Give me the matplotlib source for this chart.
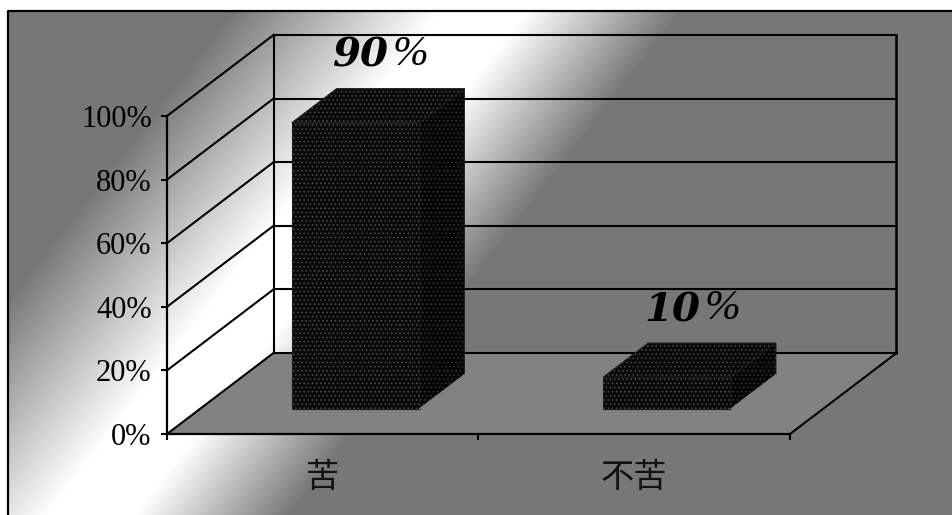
import numpy as np
import matplotlib.pyplot as plt
from matplotlib.patches import Polygon

plt.rcParams['font.family'] = ['Liberation Serif', 'Noto Sans CJK SC']
plt.rcParams['hatch.linewidth'] = 0.6

categories = ['苦', '不苦']
values = [0.90, 0.10]
value_labels = ['90', '10']
yticks = [0, 0.2, 0.4, 0.6, 0.8, 1.0]
ytick_labels = ['0%', '20%', '40%', '60%', '80%', '100%']

W, H = 952, 515
fig = plt.figure(figsize=(W / 100, H / 100), dpi=100)

# diagonal gray-white-gray background (pixel coords)
bg = fig.add_axes([0, 0, 1, 1], zorder=-1)
bg.set_xlim(0, W)
bg.set_ylim(H, 0)
bg.axis('off')
xx, yy = np.meshgrid(np.arange(W) + 0.5, np.arange(H) + 0.5)
u = 0.789 * xx + 0.615 * yy
g = np.full(u.shape, 119.0)
m = (u > 190) & (u < 354)
g[m] = 119 + 136 * (u[m] - 190) / 164
g[(u >= 354) & (u <= 423)] = 255
m = (u > 423) & (u < 545)
g[m] = 255 - 136 * (u[m] - 423) / 122
g[(yy < 11) | (xx < 8)] = 255
bg.imshow(np.dstack([g, g, g]) / 255, extent=(0, W, H, 0), aspect='auto')
bg.plot([8, 8, W], [H, 11, 11], color='black', lw=1.6)

# front frame of the plot
ax = fig.add_axes([167 / W, 1 - 434 / H, 623 / W, 318 / H])
ax.set_facecolor('none')
ax.set_xlim(0, 2)
ax.set_ylim(0, 1)

DX, DY = 106.5 / 311.5, 81 / 318   # depth offset in data units


def P(x, y, d):
    return (x + d * DX, y + d * DY)


# floor
ax.add_patch(Polygon([P(0, 0, 0), P(2, 0, 0), P(2, 0, 1), P(0, 0, 1)],
                     closed=True, facecolor='#828282', edgecolor='none',
                     zorder=0.5, clip_on=False))
ax.plot([2, 2 + DX], [0, DY], color='black', lw=1.5, clip_on=False, zorder=1)

# walls and gridlines
for v in yticks:
    ax.plot([0, DX], [v, v + DY], color='black', lw=1.5, clip_on=False, zorder=1)
    ax.plot([DX, 2 + DX], [v + DY, v + DY], color='black', lw=1.5, clip_on=False, zorder=1)
ax.plot([DX, DX], [DY, 1 + DY], color='black', lw=1.5, clip_on=False, zorder=1)
ax.plot([2 + DX, 2 + DX], [DY, 1 + DY], color='black', lw=1.8, clip_on=False, zorder=1)

# bars
hw, d0, d1 = 0.205, 0.31, 0.73
for i, (v, lab) in enumerate(zip(values, value_labels)):
    cx = i + 0.5
    x0, x1 = cx - hw, cx + hw
    front = [P(x0, 0, d0), P(x1, 0, d0), P(x1, v, d0), P(x0, v, d0)]
    top = [P(x0, v, d0), P(x1, v, d0), P(x1, v, d1), P(x0, v, d1)]
    side = [P(x1, 0, d0), P(x1, 0, d1), P(x1, v, d1), P(x1, v, d0)]
    for face, fc, hc in [(front, '#0a0a0a', '#4e4e4e'),
                         (top, '#0a0a0a', '#4a4a4a'),
                         (side, '#050505', '#363636')]:
        ax.add_patch(Polygon(face, closed=True, facecolor=fc, edgecolor='#1a1a1a',
                             lw=0.8, zorder=3, clip_on=False))
        ax.add_patch(Polygon(face, closed=True, facecolor='none', edgecolor=hc,
                             hatch='....', lw=0, zorder=3.1, clip_on=False))
    ax.plot(*zip(P(x1, 0, d0), P(x1, 0, d1)), color='#9a9a9a', lw=0.8,
            zorder=3.2, clip_on=False)

    ax.annotate(lab, xy=P(cx, v, 0.5), xytext=(9, 37), textcoords='offset points',
                ha='right', va='center', fontfamily='DejaVu Serif',
                fontweight='heavy', fontstyle='italic', fontsize=29, zorder=4,
                annotation_clip=False)
    ax.annotate('%', xy=P(cx, v, 0.5), xytext=(12, 38), textcoords='offset points',
                ha='left', va='center', fontfamily='Liberation Serif',
                fontstyle='italic', fontsize=31, zorder=4, annotation_clip=False)

# axes styling
for s in ['top', 'right']:
    ax.spines[s].set_visible(False)
for s in ['left', 'bottom']:
    ax.spines[s].set_linewidth(1.6)
    ax.spines[s].set_zorder(2)

ax.set_yticks(yticks, ytick_labels)
ax.tick_params(axis='y', direction='out', length=4, width=1.5, pad=7,
               labelsize=22, labelcolor='black')
ax.set_xticks([0.5, 1.5], categories)
ax.set_xticks([0, 1, 2], minor=True)
ax.tick_params(axis='x', which='major', length=0, pad=19, labelsize=24)
ax.tick_params(axis='x', which='minor', direction='out', length=4, width=1.5)
for t in ax.get_xticklabels():
    t.set_fontfamily(['Noto Sans CJK SC'])
    t.set_fontweight('light')
    t.set_color('#111111')

fig.savefig('out.png', dpi=100)
